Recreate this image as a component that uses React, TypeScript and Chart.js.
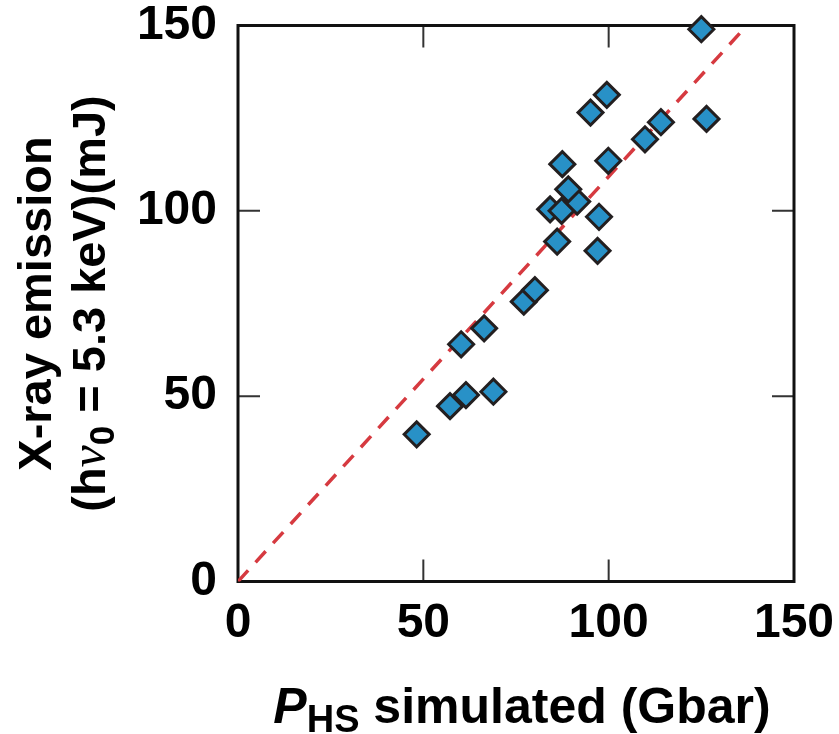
import React, { useEffect, useRef } from 'react';
import { Chart, registerables } from 'chart.js';

Chart.register(...registerables);

// P_HS simulated (Gbar)
const pressureGbar = [48.2, 57.2, 61.5, 68.9, 60.2, 66.4, 77.1, 80.1, 86.1, 97.0, 84.2, 87.3, 97.4, 91.5, 89.1, 87.5, 99.9, 109.8, 114.1, 126.4, 95.1, 99.5, 125.0];
// X-ray emission (mJ)
const xrayMJ = [39.7, 47.3, 50.3, 51.2, 64.0, 68.3, 75.5, 78.6, 91.7, 89.2, 100.4, 100.0, 98.4, 102.5, 105.8, 112.6, 113.5, 119.3, 123.9, 124.8, 126.5, 131.3, 149.0];
// dashed reference line
const fitX = [0, 137.3];
const fitY = [0, 150];
const tickValues = [0, 50, 100, 150];

const FONT = '"Liberation Sans", Arial, sans-serif';

const framePlugin = {
  id: 'frameTicks',
  beforeDatasetsDraw(chart: any) {
    const { ctx, chartArea: a, scales } = chart;
    ctx.save();
    ctx.strokeStyle = '#333';
    ctx.lineWidth = 2;
    const L = 22;
    ctx.beginPath();
    tickValues.forEach((v) => {
      const px = scales.x.getPixelForValue(v);
      ctx.moveTo(px, a.bottom);
      ctx.lineTo(px, a.bottom - L);
      ctx.moveTo(px, a.top);
      ctx.lineTo(px, a.top + L);
      const py = scales.y.getPixelForValue(v);
      ctx.moveTo(a.left, py);
      ctx.lineTo(a.left + L, py);
      ctx.moveTo(a.right, py);
      ctx.lineTo(a.right - L, py);
    });
    ctx.stroke();
    ctx.strokeStyle = '#111';
    ctx.lineWidth = 3;
    ctx.strokeRect(a.left, a.top, a.right - a.left, a.bottom - a.top);
    ctx.restore();
  },
};

type Seg = { text: string; font: string; dy: number };

function drawSegs(ctx: CanvasRenderingContext2D, segs: Seg[], cx: number, baseline: number) {
  let total = 0;
  const widths = segs.map((s) => {
    ctx.font = s.font;
    const w = ctx.measureText(s.text).width;
    total += w;
    return w;
  });
  let x = cx - total / 2;
  ctx.textAlign = 'left';
  ctx.textBaseline = 'alphabetic';
  segs.forEach((s, i) => {
    ctx.font = s.font;
    ctx.fillText(s.text, x, baseline + s.dy);
    x += widths[i];
  });
}

const titlePlugin = {
  id: 'titles',
  afterDraw(chart: any) {
    const { ctx, chartArea: a } = chart;
    ctx.save();
    ctx.fillStyle = '#000';
    // x title
    drawSegs(
      ctx,
      [
        { text: 'P', font: `italic bold 50px ${FONT}`, dy: 0 },
        { text: 'HS', font: `bold 38px ${FONT}`, dy: 9 },
        { text: ' simulated (Gbar)', font: `bold 50px ${FONT}`, dy: 0 },
      ],
      522,
      723
    );
    // y title (rotated)
    const cy = (a.top + a.bottom) / 2;
    ctx.save();
    ctx.translate(51, cy);
    ctx.rotate(-Math.PI / 2);
    drawSegs(ctx, [{ text: 'X-ray emission', font: `bold 47px ${FONT}`, dy: 0 }], 0, 0);
    ctx.restore();
    ctx.save();
    ctx.translate(105, cy);
    ctx.rotate(-Math.PI / 2);
    drawSegs(
      ctx,
      [
        { text: '(h', font: `bold 47px ${FONT}`, dy: 0 },
        { text: 'ν', font: `italic 50px "Liberation Serif", serif`, dy: 0 },
        { text: '0', font: `bold 35px ${FONT}`, dy: 9 },
        { text: ' = 5.3 keV)(mJ)', font: `bold 47px ${FONT}`, dy: 0 },
      ],
      0,
      0
    );
    ctx.restore();
    ctx.restore();
  },
};

function zeroPad(s: any) {
  s.paddingTop = 0;
  s.paddingBottom = 0;
  s.paddingLeft = 0;
  s.paddingRight = 0;
}

export default function App() {
  const ref = useRef<HTMLCanvasElement | null>(null);
  useEffect(() => {
    if (!ref.current) return;
    const chart = new Chart(ref.current, {
      type: 'scatter',
      data: {
        datasets: [
          {
            label: 'data',
            data: pressureGbar.map((x, i) => ({ x, y: xrayMJ[i] })),
            pointStyle: 'rectRot',
            pointRadius: 12.5,
            pointHoverRadius: 12.5,
            backgroundColor: '#2891c7',
            borderColor: '#231f20',
            borderWidth: 3,
            clip: false,
          } as any,
          {
            type: 'line',
            label: 'fit',
            data: fitX.map((x, i) => ({ x, y: fitY[i] })),
            showLine: true,
            borderColor: '#d63a40',
            borderWidth: 3.5,
            borderDash: [15, 11],
            pointRadius: 0,
            fill: false,
          } as any,
        ],
      },
      options: {
        animation: false,
        responsive: false,
        layout: { padding: { top: 25.5, right: 45, left: 0, bottom: 0 }, autoPadding: false } as any,
        plugins: { legend: { display: false }, tooltip: { enabled: false } },
        scales: {
          x: {
            type: 'linear',
            min: 0,
            max: 150,
            grid: { display: false, drawTicks: false },
            border: { display: false },
            ticks: { stepSize: 50, padding: 13, color: '#000', font: { family: FONT, size: 48, weight: 'bold' } },
            afterFit: (s: any) => {
              s.height = 152.5;
              zeroPad(s);
            },
          },
          y: {
            type: 'linear',
            min: 0,
            max: 150,
            grid: { display: false, drawTicks: false },
            border: { display: false },
            ticks: { stepSize: 50, padding: 21, color: '#000', font: { family: FONT, size: 48, weight: 'bold' } },
            afterFit: (s: any) => {
              s.width = 238;
              zeroPad(s);
            },
          },
        },
      } as any,
      plugins: [framePlugin, titlePlugin],
    });
    return () => chart.destroy();
  }, []);
  return (
    <div style={{ position: 'fixed', left: 0, top: 0, width: 839, height: 734, background: '#fff' }}>
      <canvas ref={ref} width={839} height={734} style={{ width: 839, height: 734, display: 'block' }} />
    </div>
  );
}
